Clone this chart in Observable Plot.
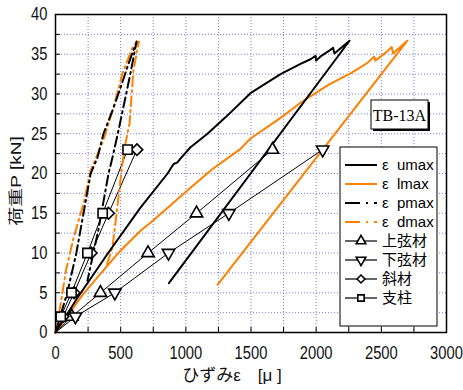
<!DOCTYPE html>
<html><head><meta charset="utf-8">
<script src="https://cdn.jsdelivr.net/npm/d3@7"></script>
<script src="https://cdn.jsdelivr.net/npm/@observablehq/plot@0.6"></script>
<style>body{margin:0;background:#fff} #chart{width:463px;height:390px}</style>
</head><body><div id="chart"></div>
<script>
// ---- data (strain in μ, load in kN) ----
const umaxX = [0,170,400,652,860,906,936,960,1036,1166,1300,1496,1727,1880,1960,1995,2000,2040,2095,2130,2140,2256,870];
const umaxY = [0,4.4,9.9,15.7,20,21.2,21.4,21.9,23.3,25,27,30.1,32.5,33.8,34.4,34.8,34.2,34.8,35.4,35.8,35.1,36.7,6.2];
const lmaxX = [0,215,476,652,729,1036,1200,1420,1496,1727,1880,2100,2264,2392,2445,2455,2540,2580,2590,2700,1243];
const lmaxY = [0,4.9,9.9,12.8,13.8,18.2,20.5,23.1,24.4,27.0,28.9,31.2,32.6,33.9,34.7,34.2,35.3,35.9,35.1,36.7,6.0];
const pmaxX = [0,90,160,215,270,322,368,437,499,560,622,575,537,483,437,407,330,245];
const pmaxY = [0,5,10,15,20,22,25,27.9,30.8,33.8,36.6,32.6,29.6,25.4,22,20,13,6.5];
const dmaxX = [0,40,80,140,215,270,368,445,514,590,640,598,568,537,514,437,395];
const dmaxY = [0,3.6,7.8,12,16.2,20.4,24.2,28.3,32.6,35.8,36.6,33,26.3,23.8,21.3,10.7,8.6];
const loadSteps = [0,2,5,10,15,23];
const upperX = [0,125,345,710,1082,1665];   // 上弦材
const lowerX = [0,153,455,867,1330,2050];   // 下弦材
const diagX  = [0,58,143,274,407,625];      // 斜材
const postX  = [0,40,123,245,362,553];      // 支柱
const xTicksMajor = [0,500,1000,1500,2000,2500,3000];
const yTicksMajor = [0,5,10,15,20,25,30,35,40];
const xLabel = "ひずみε　[μ ]";
const yLabel = "荷重P [kN]";
const specimen = "TB-13A";
const legendNames = ["ε  umax","ε  lmax","ε  pmax","ε  dmax","上弦材","下弦材","斜材","支柱"];

const orange = "#ff8000";
const zip = (xs, ys) => xs.map((x, i) => ({x, y: ys[i]}));
const umax = zip(umaxX, umaxY), lmax = zip(lmaxX, lmaxY), pmax = zip(pmaxX, pmaxY), dmax = zip(dmaxX, dmaxY);
const upper = zip(upperX, loadSteps), lower = zip(lowerX, loadSteps), diag = zip(diagX, loadSteps), post = zip(postX, loadSteps);
const nz = d => d.filter(p => p.y > 0);

const xMinor = d3.range(0, 3001, 250), yMinor = d3.range(0, 40.01, 2.5);
const numFont = "'Liberation Sans',Arial,sans-serif";
const jpFont = "'Liberation Sans','Noto Sans CJK JP',sans-serif";
const fmt = d3.format("d");

const chart = Plot.plot({
  width: 463, height: 390,
  marginLeft: 55, marginRight: 17, marginTop: 14, marginBottom: 58,
  style: {background: "white", fontFamily: jpFont},
  x: {domain: [0, 3000], label: null},
  y: {domain: [0, 40], label: null},
  marks: [
    Plot.gridX(xMinor.slice(1, -1), {stroke: "#6a6aee", strokeOpacity: 0.9, strokeDasharray: "1,2"}),
    Plot.gridY(yMinor.slice(1, -1), {stroke: "#6a6aee", strokeOpacity: 0.9, strokeDasharray: "1,2"}),
    Plot.line(upper, {x: "x", y: "y", stroke: "black", strokeWidth: 1}),
    Plot.line(lower, {x: "x", y: "y", stroke: "black", strokeWidth: 1}),
    Plot.line(diag, {x: "x", y: "y", stroke: "black", strokeWidth: 1}),
    Plot.line(post, {x: "x", y: "y", stroke: "black", strokeWidth: 1}),
    Plot.line(dmax, {x: "x", y: "y", stroke: orange, strokeWidth: 2, strokeDasharray: "10,4,2,4"}),
    Plot.line(pmax, {x: "x", y: "y", stroke: "black", strokeWidth: 2, strokeDasharray: "10,4,2,4"}),
    Plot.line(lmax, {x: "x", y: "y", stroke: orange, strokeWidth: 2}),
    Plot.line(umax, {x: "x", y: "y", stroke: "black", strokeWidth: 2}),
    Plot.dot(nz(upper), {x: "x", y: "y", symbol: "triangle", r: 4.6, fill: "white", stroke: "black", strokeWidth: 1.6}),
    Plot.dot(nz(lower), {x: "x", y: "y", symbol: "triangle", rotate: 180, r: 4.6, fill: "white", stroke: "black", strokeWidth: 1.6}),
    Plot.dot(nz(diag), {x: "x", y: "y", symbol: "diamond2", r: 5.2, fill: "white", stroke: "black", strokeWidth: 1.6}),
    Plot.dot(nz(post), {x: "x", y: "y", symbol: "square", r: 5.2, fill: "white", stroke: "black", strokeWidth: 1.6}),
    Plot.frame({stroke: "black", strokeWidth: 1.5}),
    Plot.axisX(xMinor, {tickSize: -5, tickFormat: () => "", strokeWidth: 1}),
    Plot.axisY(yMinor, {tickSize: -5, tickFormat: () => "", strokeWidth: 1}),
    Plot.axisX(xTicksMajor, {tickSize: 0, tickPadding: 14, fontSize: 18, fontFamily: numFont, fill: "#111", tickFormat: fmt}),
    Plot.axisY(yTicksMajor, {tickSize: 0, tickPadding: 8, fontSize: 18, fontFamily: numFont, fill: "#111", tickFormat: fmt})
  ]
});
document.getElementById("chart").append(chart);

const svg = d3.select(chart);
// narrow the tick labels like the reference's condensed digits
svg.selectAll('g[aria-label="x-axis tick label"] text, g[aria-label="y-axis tick label"] text')
  .attr("transform", function() { return (this.getAttribute("transform") || "") + " scale(0.82,1)"; });

// axis titles
svg.append("text").attr("transform", "translate(232,375)").attr("text-anchor", "middle").attr("dy", "0.35em")
  .attr("font-family", jpFont).attr("font-size", 17).attr("fill", "#111").style("white-space", "pre").text(xLabel);
svg.append("text").attr("transform", "translate(16,181) scale(0.75,1) rotate(-90)").attr("text-anchor", "middle").attr("dy", "0.35em")
  .attr("font-family", jpFont).attr("font-size", 19).attr("fill", "#111").text(yLabel);

// ---- specimen label box & legend ----
const tb = svg.append("g");
tb.append("rect").attr("x", 373).attr("y", 102).attr("width", 57).attr("height", 29).attr("fill", "black");
tb.append("rect").attr("x", 371).attr("y", 100).attr("width", 57).attr("height", 29).attr("fill", "white").attr("stroke", "black").attr("stroke-width", 1);
tb.append("text").attr("x", 399.5).attr("y", 115).attr("dy", "0.35em").attr("text-anchor", "middle")
  .attr("font-family", "'Liberation Serif','Times New Roman',serif").attr("font-size", 16).attr("fill", "black").text(specimen);

const lg = svg.append("g");
lg.append("rect").attr("x", 340).attr("y", 147).attr("width", 97).attr("height", 179).attr("fill", "white").attr("stroke", "black").attr("stroke-width", 1);
const styles = [
  {stroke: "black", w: 2, dash: null},
  {stroke: orange, w: 2, dash: null},
  {stroke: "black", w: 2, dash: "15,6,2,6"},
  {stroke: orange, w: 2, dash: "15,6,2,6"},
  {stroke: "black", w: 1.2, sym: d3.symbolTriangle, rot: 0},
  {stroke: "black", w: 1.2, sym: d3.symbolTriangle, rot: 180},
  {stroke: "black", w: 1.2, sym: d3.symbolDiamond2},
  {stroke: "black", w: 1.2, sym: d3.symbolSquare}
];
legendNames.forEach((name, i) => {
  const y = 165 + i * 19, s = styles[i];
  const l = lg.append("line").attr("x1", 345).attr("x2", 377).attr("y1", y).attr("y2", y)
    .attr("stroke", s.stroke).attr("stroke-width", s.w);
  if (s.dash) l.attr("stroke-dasharray", s.dash);
  if (s.sym) {
    lg.append("path").attr("d", d3.symbol(s.sym, 40)())
      .attr("transform", `translate(361,${y}) rotate(${s.rot || 0})`)
      .attr("fill", "white").attr("stroke", "black").attr("stroke-width", 1.6);
  }
  lg.append("text").attr("x", 382).attr("y", y).attr("dy", "0.35em").attr("text-anchor", "start")
    .attr("font-family", jpFont).attr("font-size", 15).attr("fill", "black")
    .style("white-space", "pre").text(name);
});
</script></body></html>
